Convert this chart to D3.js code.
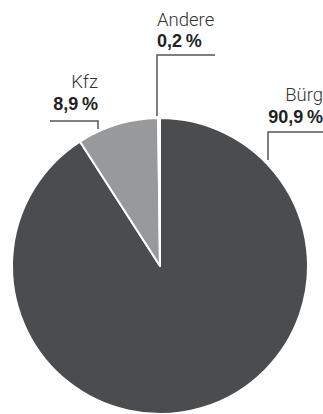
<!DOCTYPE html>
<html>
<head>
<meta charset="utf-8">
<script src="https://cdn.jsdelivr.net/npm/d3@7/dist/d3.min.js"></script>
<style>
  html, body { margin: 0; padding: 0; background: #fff; }
  svg { display: block; }
  .name { font-family: Roboto, "Liberation Sans", sans-serif; font-weight: 300; font-size: 18.5px; fill: #333; }
  .value { font-family: "Liberation Sans", Arial, sans-serif; font-weight: 700; font-size: 18px; fill: #222; }
  .leader { fill: none; stroke: #555; stroke-width: 1.5; }
</style>
</head>
<body>
<svg id="chart" width="323" height="414"></svg>
<script>
// Shares of the total, in percent
const categories = ["Bürg", "Kfz", "Andere"];
const shares = [90.9, 8.9, 0.2];
const sliceColors = ["#4b4c4e", "#98999b", "#d6d7d9"];

// Label placement for each slice (text anchor point and leader polyline)
const labelLayout = [
  { anchor: "end",   x: 323, nameY: 101, valueY: 123, leader: [[323, 132], [268, 132], [268, 160]] },
  { anchor: "end",   x: 98,  nameY: 88,  valueY: 110, leader: [[50, 121], [98, 121], [98, 129]] },
  { anchor: "start", x: 157, nameY: 26,  valueY: 47,  leader: [[215, 55], [157, 55], [157, 116]] }
];

const svg = d3.select("#chart");
const cx = 160, cy = 266, radius = 148;

const color = d3.scaleOrdinal().domain(categories).range(sliceColors);

const pie = d3.pie().sort(null).value(d => d.value);
const arc = d3.arc().innerRadius(0).outerRadius(radius);

const data = categories.map((c, i) => ({ name: c, value: shares[i] }));

const g = svg.append("g").attr("transform", `translate(${cx},${cy})`);
g.selectAll("path")
  .data(pie(data))
  .join("path")
  .attr("d", arc)
  .attr("fill", d => color(d.data.name))
  .attr("stroke", "#fff")
  .attr("stroke-width", 2)
  .attr("stroke-linejoin", "round");

const fmt = v => v.toFixed(1).replace(".", ",") + "\u202F%";

const line = d3.line();
data.forEach((d, i) => {
  const L = labelLayout[i];
  svg.append("path").attr("class", "leader").attr("d", line(L.leader));
  svg.append("text").attr("class", "name")
    .attr("x", L.x).attr("y", L.nameY).attr("text-anchor", L.anchor).text(d.name);
  svg.append("text").attr("class", "value")
    .attr("x", L.x).attr("y", L.valueY).attr("text-anchor", L.anchor).text(fmt(d.value));
});
</script>
</body>
</html>
